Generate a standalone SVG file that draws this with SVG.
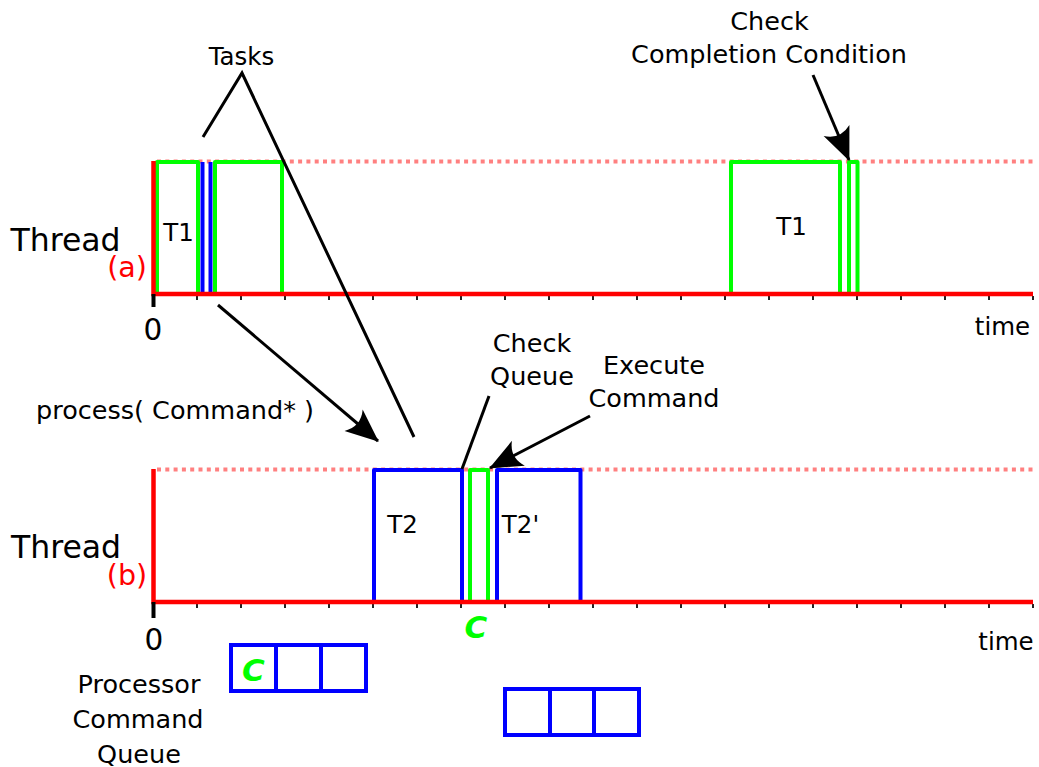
<svg xmlns="http://www.w3.org/2000/svg" width="1039" height="767" viewBox="0 0 1039 767">
<style>
text{font-family:"DejaVu Sans","Liberation Sans",sans-serif;fill:#000;text-anchor:middle}
.lbl{font-size:25.5px}
.sm{font-size:24.5px}
.thr{font-size:31.5px}
.red{fill:#ff0000;font-size:28.5px}
.zero{font-size:29.5px}
.cg{fill:#00ff00;font-weight:bold;font-style:italic}
.g{fill:none;stroke:#00ff00;stroke-width:4;stroke-linejoin:round}
.b{fill:none;stroke:#0000ff;stroke-width:4;stroke-linejoin:round}
.axis{fill:none;stroke:#ff0000;stroke-width:4.5}
.dot{fill:none;stroke:#ff8080;stroke-width:4;stroke-dasharray:4 4.3}
.tick{fill:none;stroke:#222;stroke-width:2}
.otick{fill:none;stroke:#000;stroke-width:4}
.q{fill:none;stroke:#0000ff;stroke-width:4}
.ln{fill:none;stroke:#000;stroke-width:3}
.arr{fill:none;stroke:#000;stroke-width:3;marker-end:url(#ah)}
</style>
<defs>
<marker id="ah" markerUnits="userSpaceOnUse" viewBox="-34 -17 36 34" refX="0" refY="0" markerWidth="36" markerHeight="34" orient="auto">
<path d="M1,0 L-32,-14 Q-22,0 -32,14 Z" fill="#000"/>
</marker>
</defs>
<rect width="1039" height="767" fill="#fff"/>

<g id="thread-a">
<path class="dot" d="M157,161.5 H1033"/>
<path class="g" d="M157,294 V162 H198 V294"/>
<path class="b" d="M202.5,162 V294 M210.5,162 V294"/>
<path class="g" d="M215,294 V162 H282 V294"/>
<path class="g" d="M731,294 V162 H840 V294"/>
<path class="g" d="M849,294 V162 H857.5 V294"/>
<path class="tick" d="M197,296 v4 M241,296 v4 M285,296 v4 M329,296 v4 M373,296 v4 M417,296 v4 M461,296 v4 M505,296 v4 M549,296 v4 M593,296 v4 M637,296 v4 M681,296 v4 M725,296 v4 M769,296 v4 M813,296 v4 M857,296 v4 M901,296 v4 M945,296 v4 M989,296 v4 M1033,296 v4"/>
<path class="axis" d="M153.5,161 V294 H1033"/>
<path class="otick" d="M153.5,294 V307"/>
<text class="thr" x="65.5" y="251">Thread</text>
<text class="red" x="127" y="277">(a)</text>
<text class="zero" x="153" y="340">0</text>
<text class="sm" x="178.5" y="241">T1</text>
<text class="sm" x="791.5" y="235">T1</text>
<text class="sm" x="1002.5" y="335">time</text>
</g>

<g id="thread-b">
<path class="dot" d="M157,469.5 H1033"/>
<path class="b" d="M374,602 V470 H462 V602"/>
<path class="g" d="M470,602 V470 H488 V602"/>
<path class="b" d="M497,602 V470 H580.5 V602"/>
<path class="tick" d="M197,604 v4 M241,604 v4 M285,604 v4 M329,604 v4 M373,604 v4 M417,604 v4 M461,604 v4 M505,604 v4 M549,604 v4 M593,604 v4 M637,604 v4 M681,604 v4 M725,604 v4 M769,604 v4 M813,604 v4 M857,604 v4 M901,604 v4 M945,604 v4 M989,604 v4 M1033,604 v4"/>
<path class="axis" d="M153.5,469 V602 H1033"/>
<path class="otick" d="M153.5,602 V618"/>
<text class="thr" x="66" y="558">Thread</text>
<text class="red" x="127" y="585">(b)</text>
<text class="zero" x="154" y="650">0</text>
<text class="sm" x="402.5" y="533">T2</text>
<text class="sm" x="520.5" y="533">T2'</text>
<text class="cg" x="476" y="638" font-size="31">C</text>
<text class="sm" x="1006" y="650">time</text>
</g>

<g id="queue-1">
<rect class="q" x="231" y="645" width="135" height="46"/>
<path class="q" d="M276,645 V691 M321,645 V691"/>
<text class="cg" x="253.5" y="681" font-size="31">C</text>
</g>

<g id="queue-2">
<rect class="q" x="505" y="689" width="134" height="46"/>
<path class="q" d="M550,689 V735 M594,689 V735"/>
</g>

<g id="labels">
<text class="sm" x="241.5" y="65">Tasks</text>
<text class="lbl" x="769.5" y="30">Check</text>
<text class="lbl" x="769" y="63">Completion Condition</text>
<text class="lbl" x="175" y="419">process( Command* )</text>
<text class="lbl" x="532" y="352">Check</text>
<text class="lbl" x="532" y="385">Queue</text>
<text class="lbl" x="654" y="374">Execute</text>
<text class="lbl" x="654" y="407">Command</text>
<text class="lbl" x="139" y="693">Processor</text>
<text class="lbl" x="138" y="728">Command</text>
<text class="lbl" x="139" y="763">Queue</text>
</g>

<g id="connectors">
<path class="ln" d="M203,137 L242,73 L414,437"/>
<path class="arr" d="M813,75 L849,160"/>
<path class="arr" d="M218,305 L378,441"/>
<path class="ln" d="M489,396 L462,469"/>
<path class="arr" d="M590,416 L490,468"/>
</g>
</svg>
